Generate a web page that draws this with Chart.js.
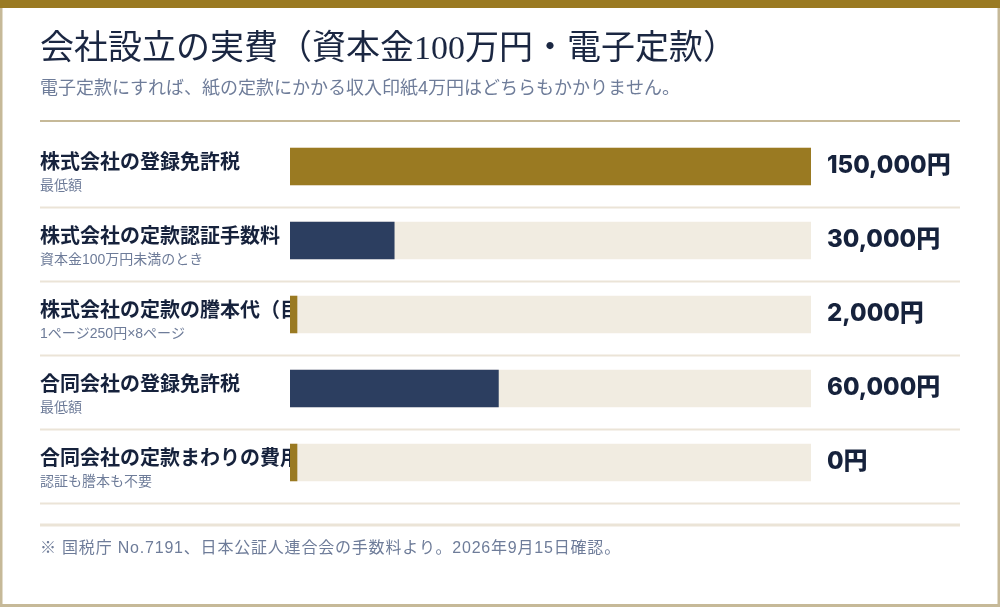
<!DOCTYPE html>
<html lang="ja">
<head>
<meta charset="utf-8">
<script src="https://cdn.jsdelivr.net/npm/chart.js@4.4.1/dist/chart.umd.min.js"></script>
<style>
  html, body { margin: 0; padding: 0; background: #ffffff; }
  #wrap { width: 1000px; height: 607px; position: relative; }
  canvas { display: block; }
</style>
</head>
<body>
<div id="wrap"><canvas id="c" width="1000" height="607"></canvas></div>
<script>
const titleText = '会社設立の実費（資本金100万円・電子定款）';
const subtitleText = '電子定款にすれば、紙の定款にかかる収入印紙4万円はどちらもかかりません。';
const footerText = '※ 国税庁 No.7191、日本公証人連合会の手数料より。2026年9月15日確認。';

const categories = [
  '株式会社の登録免許税',
  '株式会社の定款認証手数料',
  '株式会社の定款の謄本代（目安）',
  '合同会社の登録免許税',
  '合同会社の定款まわりの費用'
];
const notes = [
  '最低額',
  '資本金100万円未満のとき',
  '1ページ250円×8ページ',
  '最低額',
  '認証も謄本も不要'
];
const values = [150000, 30000, 2000, 60000, 0];
const axisMax = 150000;

const GOLD = '#9a7a22';
const NAVY = '#2c3e60';
const TRACK = '#f1ece1';
const TAN = '#c6b998';
const RULE = '#ebe4d7';
const INK = '#16223c';
const MUTED = '#6e7c99';

const barColors = [GOLD, NAVY, GOLD, NAVY, GOLD];
const trackValues = categories.map(() => axisMax);

const SANS = '"Noto Sans CJK JP", "Noto Sans", sans-serif';
const LSANS = '"Liberation Sans", "Noto Sans CJK JP", sans-serif';

const decor = {
  id: 'decor',
  beforeDatasetsDraw(chart) {
    const ctx = chart.ctx;
    const W = chart.width, H = chart.height;
    const ys = chart.scales.y;
    ctx.save();
    // card
    ctx.fillStyle = '#ffffff';
    ctx.fillRect(0, 0, W, H);
    ctx.fillStyle = TAN;
    ctx.fillRect(0, 0, 2.5, H);
    ctx.fillRect(W - 2.5, 0, 2.5, H);
    ctx.fillRect(0, H - 3, W, 3);
    ctx.fillStyle = GOLD;
    ctx.fillRect(0, 0, W, 8);

    // title
    ctx.textBaseline = 'middle';
    ctx.textAlign = 'left';
    ctx.fillStyle = '#1b2742';
    ctx.font = '400 34px "Liberation Serif", "DejaVu Serif", "Noto Sans CJK JP", serif';
    ctx.fillText(titleText, 40, 50);
    ctx.fillStyle = MUTED;
    ctx.font = '400 18px ' + LSANS;
    ctx.fillText(subtitleText, 40, 89);
    // header rule
    ctx.fillStyle = TAN;
    ctx.fillRect(40, 120, 920, 2);

    // rows
    for (let i = 0; i < categories.length; i++) {
      const cy = ys.getPixelForValue(i);
      ctx.fillStyle = RULE;
      ctx.fillRect(40, cy + 40, 920, 2);
      ctx.fillStyle = INK;
      ctx.font = '700 20px ' + SANS;
      ctx.fillText(categories[i], 40, cy - 5.5);
      ctx.fillStyle = MUTED;
      ctx.font = '400 14px ' + LSANS;
      ctx.fillText(notes[i], 40, cy + 19.5);
    }
    const lastY = ys.getPixelForValue(categories.length - 1);
    ctx.fillStyle = RULE;
    ctx.fillRect(40, lastY + 61, 920, 3);

    // footer
    ctx.fillStyle = MUTED;
    ctx.font = '400 16px ' + LSANS;
    if ('letterSpacing' in ctx) ctx.letterSpacing = '0.8px';
    ctx.fillText(footerText, 40, 549);
    if ('letterSpacing' in ctx) ctx.letterSpacing = '0px';
    ctx.restore();
  },
  afterDatasetsDraw(chart) {
    const ctx = chart.ctx;
    const area = chart.chartArea;
    const ys = chart.scales.y;
    ctx.save();
    ctx.fillStyle = INK;
    ctx.textAlign = 'left';
    ctx.textBaseline = 'alphabetic';
    ctx.font = '800 24px Inter, ' + SANS;
    for (let i = 0; i < values.length; i++) {
      const cy = ys.getPixelForValue(i);
      ctx.fillText(values[i].toLocaleString('ja-JP') + '円', area.right + 16, cy + 6);
    }
    ctx.restore();
  }
};

new Chart(document.getElementById('c'), {
  type: 'bar',
  data: {
    labels: categories,
    datasets: [
      {
        label: '費用',
        data: values,
        backgroundColor: barColors,
        borderWidth: 0,
        barThickness: 37,
        minBarLength: 7,
        grouped: false,
        order: 1
      },
      {
        label: 'track',
        data: trackValues,
        backgroundColor: TRACK,
        borderWidth: 0,
        barThickness: 37,
        grouped: false,
        order: 2
      }
    ]
  },
  plugins: [decor],
  options: {
    indexAxis: 'y',
    responsive: false,
    animation: false,
    devicePixelRatio: 1,
    layout: { padding: { left: 290, right: 189, top: 129.5, bottom: 107.5 } },
    scales: {
      x: { display: false, min: 0, max: axisMax },
      y: { display: false }
    },
    plugins: {
      legend: { display: false },
      tooltip: { enabled: false },
      title: { display: false }
    }
  }
});
</script>
</body>
</html>
